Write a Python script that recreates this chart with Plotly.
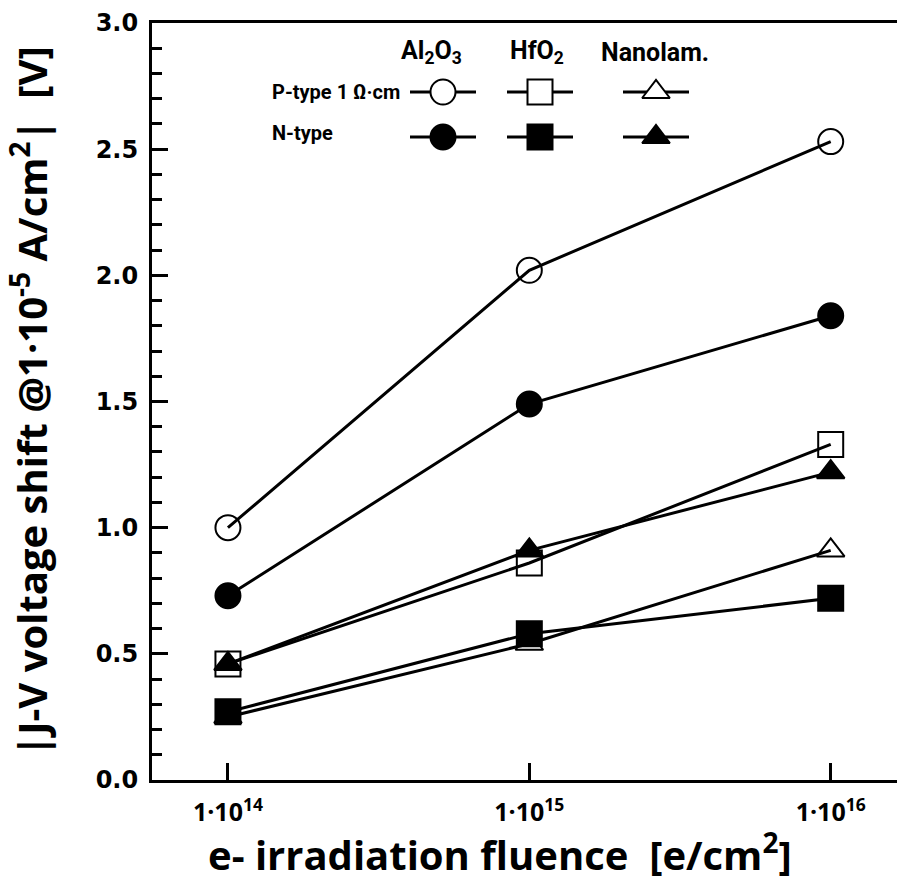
import plotly.graph_objects as go

# ---- data ----
fluence = [1e14, 1e15, 1e16]
al2o3_p = [1.00, 2.02, 2.53]
al2o3_n = [0.73, 1.49, 1.84]
hfo2_p = [0.46, 0.86, 1.33]
hfo2_n = [0.27, 0.58, 0.72]
nano_p = [0.25, 0.54, 0.91]
nano_n = [0.46, 0.91, 1.22]

x_tick_vals = [1e14, 1e15, 1e16]
x_tick_text = ["1·10<sup>14</sup>", "1·10<sup>15</sup>", "1·10<sup>16</sup>"]
y_tick_vals = [0.0, 0.5, 1.0, 1.5, 2.0, 2.5, 3.0]

W, H = 897, 887
L, R, T, B = 152, 0, 23, 107

fig = go.Figure()

series = [
    (hfo2_p, "square-open", "HfO2 P"),
    (nano_p, "triangle-up-open", "Nanolam. P"),
    (al2o3_p, "circle-open", "Al2O3 P"),
    (al2o3_n, "circle", "Al2O3 N"),
    (hfo2_n, "square", "HfO2 N"),
    (nano_n, "triangle-up", "Nanolam. N"),
]
for vals, sym, name in series:
    is_tri = "triangle" in sym
    fig.add_trace(go.Scatter(
        x=fluence, y=vals, mode="lines+markers", name=name,
        line=dict(color="black", width=3),
        marker=dict(symbol=sym, size=25 if not is_tri else 24, color="black",
                    line=dict(color="black", width=2)),
        showlegend=False,
    ))

# ---- custom legend (pixel-like overlay axis) ----
leg_x = [443, 540, 656]
leg_y = [92, 137]
leg_syms = [["circle", "square", "triangle-up"], ["circle", "square", "triangle-up"]]
for r, yy in enumerate(leg_y):
    for c, xx in enumerate(leg_x):
        fill = "white" if r == 0 else "black"
        fig.add_trace(go.Scatter(
            x=[xx - 33, xx + 33], y=[yy, yy], mode="lines",
            line=dict(color="black", width=3), xaxis="x2", yaxis="y2",
            showlegend=False, hoverinfo="skip"))
        fig.add_trace(go.Scatter(
            x=[xx], y=[yy], mode="markers", xaxis="x2", yaxis="y2",
            marker=dict(symbol=leg_syms[r][c], size=25 if c < 2 else 24, color=fill,
                        line=dict(color="black", width=2)),
            showlegend=False, hoverinfo="skip"))

lab_font = dict(family="Roboto, Open Sans, Arial", size=20, color="black", weight="bold")
head_font = dict(family="Roboto, Open Sans, Arial", size=25, color="black", weight="bold")
annots = [
    dict(x=270, y=92, text="P-type 1 Ω·cm", xanchor="left", font=lab_font),
    dict(x=270, y=133, text="N-type", xanchor="left", font=lab_font),
    dict(x=431, y=52, text="Al<sub>2</sub>O<sub>3</sub>", xanchor="center", font=head_font),
    dict(x=537, y=52, text="HfO<sub>2</sub>", xanchor="center", font=head_font),
    dict(x=655, y=52, text="Nanolam.", xanchor="center", font=head_font),
]
for a in annots:
    fig.add_annotation(x=a["x"], y=a["y"], xref="x2", yref="y2", text=a["text"],
                       xanchor=a["xanchor"], yanchor="middle", showarrow=False, font=a["font"])

title_font = dict(family="Open Sans, Arial", size=40, color="black", weight="bold")
fig.add_annotation(x=(500 - L) / (W - L - R), y=-(852 - 780) / (780 - T), xref="paper", yref="paper",
                   text="e- irradiation fluence  [e/cm<sup>2</sup>]", showarrow=False,
                   xanchor="center", yanchor="middle", font=title_font)

fig.update_layout(
    width=W, height=H,
    margin=dict(l=L, r=R, t=T, b=B),
    paper_bgcolor="white", plot_bgcolor="white",
    xaxis=dict(
        type="log", range=[13.748, 16.22],
        tickvals=x_tick_vals, ticktext=x_tick_text,
        ticks="inside", ticklen=17, tickwidth=3, tickcolor="black",
        showline=True, linewidth=3, linecolor="black", mirror=True,
        showgrid=False, zeroline=False, ticklabelstandoff=8,
        tickfont=dict(family="Open Sans, Arial", size=25, color="black", weight="bold"),
    ),
    yaxis=dict(
        range=[0, 3], tickvals=y_tick_vals, tickformat=".1f",
        ticks="inside", ticklen=16, tickwidth=3, tickcolor="black",
        minor=dict(dtick=0.1, ticks="inside", ticklen=10, tickwidth=3, tickcolor="black"),
        showline=True, linewidth=3, linecolor="black",
        showgrid=False, zeroline=False, ticklabelstandoff=6,
        tickfont=dict(family="DejaVu Sans", size=24, color="black", weight="bold"),
        title=dict(text="|J-V voltage shift @1·10<sup>-5</sup> A/cm<sup>2</sup>|  [V]",
                   font=title_font, standoff=52),
    ),
    xaxis2=dict(overlaying="x", range=[L, W - R], visible=False, anchor="y"),
    yaxis2=dict(overlaying="y", range=[H - B, T], visible=False, anchor="x"),
)

fig.write_html("out.html", config={"displayModeBar": False},
               post_script="document.body.style.margin='0';document.body.style.overflow='hidden';")
